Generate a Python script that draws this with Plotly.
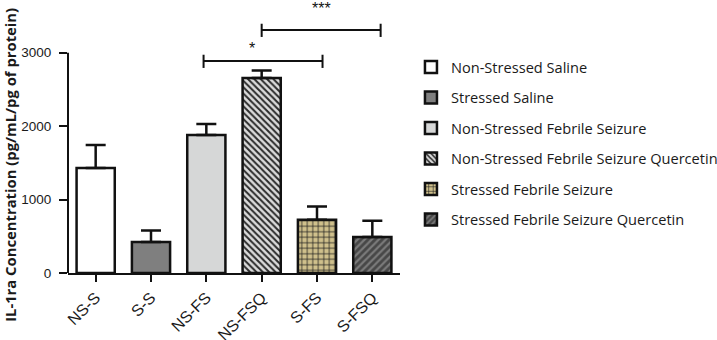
import plotly.graph_objects as go

# ---- data ----
categories = ["NS-S", "S-S", "NS-FS", "NS-FSQ", "S-FS", "S-FSQ"]
group_names = [
    "Non-Stressed Saline",
    "Stressed Saline",
    "Non-Stressed Febrile Seizure",
    "Non-Stressed Febrile Seizure Quercetin",
    "Stressed Febrile Seizure",
    "Stressed Febrile Seizure Quercetin",
]
means = [1429, 422, 1878, 2657, 725, 490]
errors_upper = [316, 158, 153, 100, 181, 222]
y_ticks = [0, 1000, 2000, 3000]
y_title = "IL-1ra Concentration (pg/mL/pg of protein)"

# significance comparisons: (start category idx, end category idx, level, label)
comp_start = [1.95, 3.0]
comp_end = [4.1, 5.15]
comp_level = [2888, 3310]
comp_label = ["*", "***"]

# ---- styles ----
fill_colors = ["#ffffff", "#7f7f7f", "#d6d7d7", "#dcdcdc", "#cfc08c", "#474747"]
pattern_shapes = ["", "", "", "\\", "+", "/"]
pattern_fg = ["#000", "#000", "#000", "#2b2b2b", "#1a1a1a", "#7a7a7a"]
pattern_size = [6, 6, 6, 4.5, 5.5, 5]
pattern_solid = [0.3, 0.3, 0.3, 0.45, 0.25, 0.45]
label_dx = [-0.2, 0.0]
label_shift = [2, 11]

fig = go.Figure()
for i, cat in enumerate(categories):
    fig.add_trace(go.Bar(
        x=[cat], y=[means[i]], name=group_names[i], legendgroup=group_names[i],
        width=0.69,
        marker=dict(
            color=fill_colors[i],
            line=dict(color="#111", width=2.5),
            pattern=dict(shape=pattern_shapes[i], fgcolor=pattern_fg[i],
                         bgcolor=fill_colors[i], size=pattern_size[i],
                         solidity=pattern_solid[i], fillmode="replace"),
        ),
        error_y=dict(type="data", symmetric=False, array=[errors_upper[i]],
                     arrayminus=[0], color="#111", thickness=2.5, width=10),
    ))

shapes = []
# y axis line only up to the top tick
shapes.append(dict(type="line", xref="x domain", yref="y", x0=0, x1=0,
                   y0=y_ticks[0], y1=y_ticks[-1], line=dict(color="#111", width=2)))
annotations = []
for k, (s, e, lv, lab) in enumerate(zip(comp_start, comp_end, comp_level, comp_label)):
    shapes.append(dict(type="line", xref="x", yref="y", x0=s, x1=e, y0=lv, y1=lv,
                       line=dict(color="#111", width=2)))
    for xx in (s, e):
        shapes.append(dict(type="line", xref="x", yref="y", x0=xx, x1=xx,
                           y0=lv - 95, y1=lv + 85, line=dict(color="#111", width=2)))
    annotations.append(dict(x=(s + e) / 2 + label_dx[k], y=lv, xref="x", yref="y", text=lab,
                            showarrow=False, yanchor="bottom", yshift=label_shift[k],
                            font=dict(family="Liberation Sans", size=16, color="#111")))

# y-axis title (placed as rotated text, slightly below the plot centre as in the original)
annotations.append(dict(text="<b>" + y_title + "</b>", xref="paper", yref="paper",
                        x=-0.175, y=0.427, xanchor="center", yanchor="middle",
                        textangle=-90, showarrow=False,
                        font=dict(family="Open Sans", size=14.8, color="#1a1a1a")))

fig.update_layout(
    width=717, height=340,
    margin=dict(l=68, r=317, t=20, b=67, autoexpand=False),
    paper_bgcolor="white", plot_bgcolor="white",
    barmode="overlay",
    showlegend=True,
    legend=dict(x=1.033, y=0.877, xanchor="left", yanchor="top",
                font=dict(family="Open Sans", size=14.6, color="#1a1a1a"),
                tracegroupgap=8.5, bgcolor="rgba(0,0,0,0)"),
    shapes=shapes,
    annotations=annotations,
    font=dict(family="Liberation Sans", color="#1a1a1a"),
)
fig.update_xaxes(
    categoryorder="array", categoryarray=categories, automargin=False,
    range=[-0.5, 5.5], showline=True, linecolor="#111", linewidth=2,
    ticks="outside", ticklen=7, tickwidth=2, tickcolor="#111",
    tickangle=-45, tickfont=dict(size=16, family="Liberation Sans", color="#1a1a1a"),
    showgrid=False, zeroline=False,
)
fig.update_yaxes(
    range=[0, 3446], showline=False, tickvals=y_ticks, automargin=False,
    ticks="outside", ticklen=8, tickwidth=2, tickcolor="#111", ticklabelstandoff=5,
    tickfont=dict(size=13.5, family="Liberation Sans", color="#1a1a1a"),
    showgrid=False, zeroline=False,
)

fig.write_html("out.html", config={"displayModeBar": False},
               post_script="document.body.style.margin='0';")
